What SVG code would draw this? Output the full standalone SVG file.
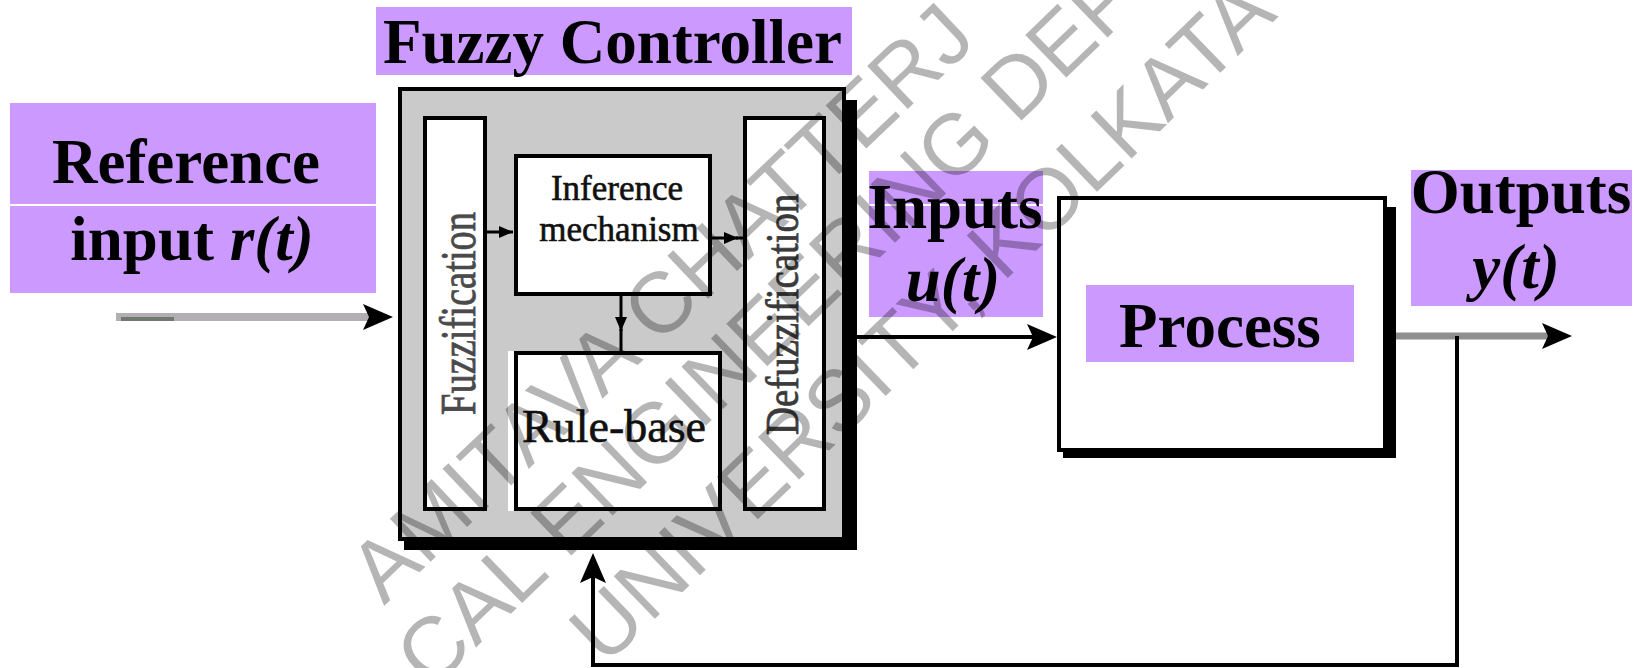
<svg xmlns="http://www.w3.org/2000/svg" width="1648" height="668" viewBox="0 0 1648 668">
<style>
.lbl{font-family:"Liberation Serif","Times New Roman",serif;font-weight:bold;font-size:63px;fill:#000}
.in{font-family:"Liberation Serif","Times New Roman",serif;fill:#111;stroke:#111;stroke-width:0.6}
.pur{fill:#cc99ff}
.box{fill:#fff;stroke:#000;stroke-width:4}
.sh{fill:#000}
.wire{fill:none;stroke:#000}
.wm{font-family:"Liberation Sans",Arial,sans-serif;font-size:86px;fill:#000;fill-opacity:0.29}
</style>
<defs>
<marker id="ah" markerUnits="userSpaceOnUse" markerWidth="32" markerHeight="28" refX="8" refY="13" orient="auto" viewBox="0 0 32 28">
<path d="M0,0 L30,13 L0,26 L6,13 z" fill="#000"/>
</marker>
<marker id="as" markerUnits="userSpaceOnUse" markerWidth="16" markerHeight="14" refX="14" refY="6" orient="auto" viewBox="0 0 16 14">
<path d="M0,0 L14,6 L0,12 z" fill="#000"/>
</marker>
</defs>
<rect width="1648" height="668" fill="#fff"/>

<g id="reference-label">
<rect class="pur" x="10" y="103" width="366" height="101"/>
<rect class="pur" x="10" y="206" width="366" height="87"/>
<text class="lbl" x="186" y="183" text-anchor="middle" font-size="62">Reference</text>
<text class="lbl" x="192" y="260" text-anchor="middle" font-size="62">input <tspan font-style="italic">r(t)</tspan></text>
</g>

<g id="fuzzy-controller">
<rect class="pur" x="376" y="7" width="476" height="68"/>
<text class="lbl" x="383" y="63">Fuzzy Controller</text>
<rect class="sh" x="404" y="100" width="453" height="450"/>
<rect x="400" y="89" width="444" height="450" fill="#c9cac9" stroke="#000" stroke-width="4"/>
</g>

<g id="fuzzification">
<rect class="box" x="425" y="118" width="60" height="391"/>
<text class="in" font-size="38.5" transform="translate(475,415) rotate(-90) scale(1,1.3)" style="fill:#4a4a4a;stroke:#4a4a4a">Fuzzification</text>
</g>

<g id="inference">
<rect class="box" x="516" y="156" width="194" height="138"/>
<text class="in" x="617" y="200" font-size="35" text-anchor="middle">Inference</text>
<text class="in" x="619" y="241" font-size="35" text-anchor="middle">mechanism</text>
</g>

<g id="rule-base">
<rect x="508" y="351" width="8" height="160" fill="#fff"/>
<rect class="box" x="516" y="353" width="204" height="156"/>
<text class="in" x="614" y="442" font-size="46" text-anchor="middle">Rule-base</text>
</g>

<g id="defuzzification">
<rect class="box" x="745" y="118" width="79" height="391"/>
<text class="in" font-size="38.8" transform="translate(798,435) rotate(-90) scale(1,1.2)" style="fill:#3a3a3a;stroke:#3a3a3a">Defuzzification</text>
</g>

<g id="inputs-label">
<rect class="pur" x="869" y="171" width="174" height="33"/>
<rect class="pur" x="869" y="206" width="174" height="111"/>
<text class="lbl" x="955" y="228" text-anchor="middle">Inputs</text>
<text class="lbl" x="953" y="301" text-anchor="middle" font-style="italic">u(t)</text>
</g>

<g id="process">
<rect class="sh" x="1063" y="207" width="333" height="251"/>
<rect class="box" x="1059" y="198" width="326" height="252"/>
<rect class="pur" x="1086" y="285" width="268" height="77"/>
<text class="lbl" x="1220" y="347" text-anchor="middle">Process</text>
</g>

<g id="outputs-label">
<rect class="pur" x="1411" y="170" width="221" height="136"/>
<text class="lbl" x="1521" y="213" text-anchor="middle">Outputs</text>
<text class="lbl" x="1516" y="288" text-anchor="middle" font-style="italic">y(t)</text>
</g>

<g id="connectors">
<line x1="116" y1="317" x2="371" y2="317" stroke="#b3aeb3" stroke-width="8" marker-end="url(#ah)"/>
<line x1="121" y1="319" x2="174" y2="319" stroke="#707870" stroke-width="4"/>
<line x1="487" y1="232" x2="513" y2="232" class="wire" stroke-width="3" marker-end="url(#as)"/>
<line x1="712" y1="238" x2="738" y2="238" class="wire" stroke-width="3" marker-end="url(#as)"/>
<line x1="743" y1="238" x2="736" y2="238" class="wire" stroke-width="3"/>
<line x1="621" y1="296" x2="621" y2="331" class="wire" stroke-width="3" marker-end="url(#as)"/>
<line x1="621" y1="329" x2="621" y2="351" class="wire" stroke-width="3"/>
<line x1="852" y1="337" x2="1035" y2="337" class="wire" stroke-width="4" marker-end="url(#ah)"/>
<line x1="1396" y1="336" x2="1550" y2="336" stroke="#8f8f8f" stroke-width="7" marker-end="url(#ah)"/>
<polyline points="1457,336 1457,665 593,665 593,575" class="wire" stroke-width="4" marker-end="url(#ah)"/>
</g>

<g id="watermark">
<text class="wm" transform="translate(384,606) rotate(-43.5)">AMITAVA CHATTERJ</text>
<text class="wm" transform="translate(431,691) rotate(-44)">CAL ENGINEERING DEP</text>
<text class="wm" transform="translate(605,667) rotate(-44)">UNIVERSITY, KOLKATA</text>
</g>
</svg>
